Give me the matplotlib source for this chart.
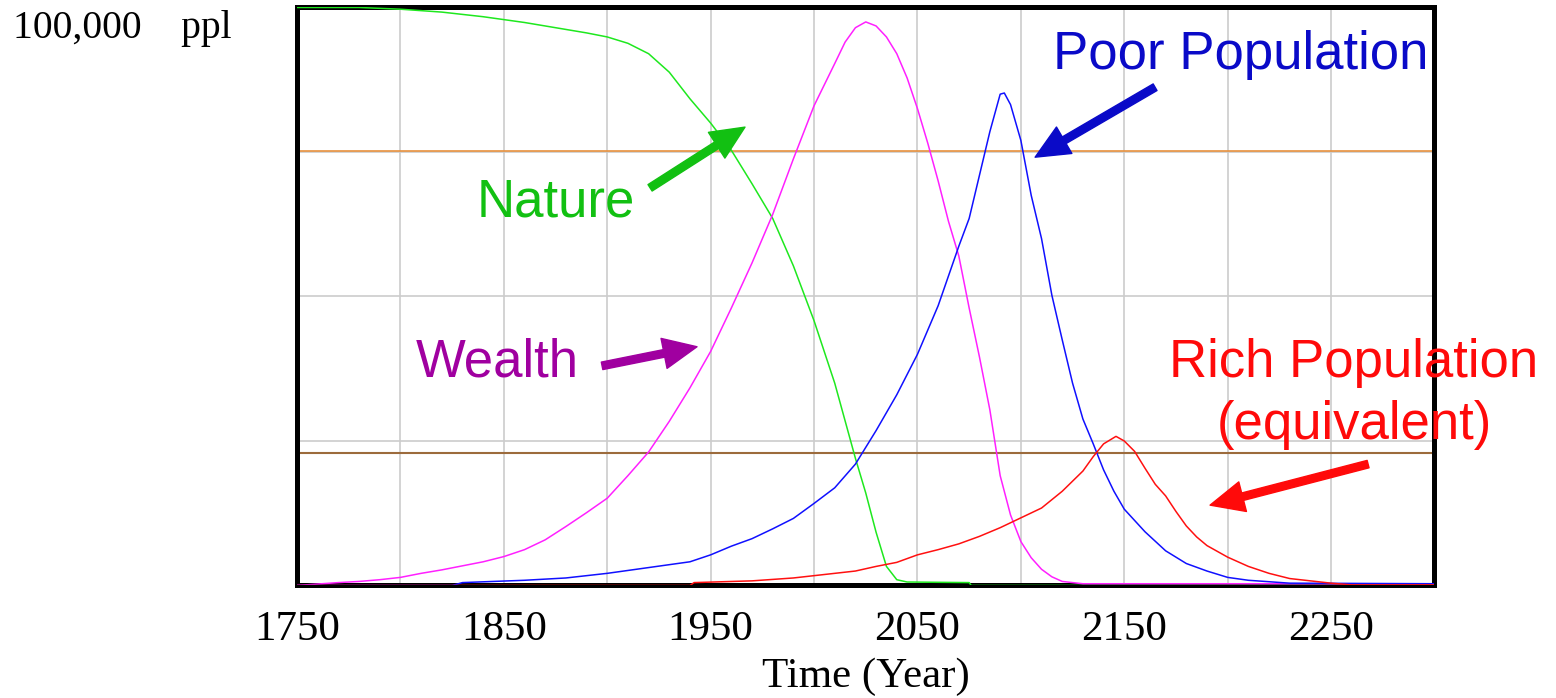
import matplotlib
matplotlib.use("Agg")
import matplotlib.pyplot as plt

# values in thousands of people (axis top = 100,000 ppl)
nature_years = [1750, 1760, 1780, 1800, 1820, 1840, 1860, 1880, 1890, 1900, 1910, 1920,
                1930, 1940, 1950, 1960, 1970, 1980, 1990, 2000, 2010, 2020, 2025, 2030,
                2035, 2040, 2045, 2075, 2076, 2300]
nature = [100, 100, 100, 99.7, 99.2, 98.4, 97.4, 96.2, 95.6, 94.9, 93.8, 92.0,
          88.8, 84.2, 80.0, 75.3, 69.5, 63.5, 55.3, 45.8, 35.0, 22.0, 16.0, 9.2,
          3.3, 1.0, 0.6, 0.5, 0.0, 0.0]

wealth_years = [1750, 1770, 1780, 1790, 1800, 1810, 1820, 1830, 1840, 1850, 1860, 1870,
                1880, 1890, 1900, 1910, 1920, 1930, 1940, 1950, 1960, 1970, 1980, 1990,
                2000, 2010, 2015, 2020, 2025, 2030, 2035, 2040, 2045, 2050, 2055, 2060,
                2065, 2070, 2075, 2080, 2085, 2090, 2095, 2100, 2105, 2110, 2115, 2120,
                2130, 2300]
wealth = [0, 0.5, 0.7, 1.0, 1.4, 2.1, 2.7, 3.4, 4.1, 5.0, 6.2, 7.9,
          10.2, 12.6, 15.1, 19.0, 23.1, 28.4, 34.2, 40.5, 48.0, 55.8, 64.2, 73.8,
          83.0, 90.3, 94.0, 96.5, 97.5, 96.8, 94.9, 92.0, 87.8, 82.5, 76.5, 70.0,
          63.0, 57.0, 48.0, 39.5, 30.4, 19.0, 12.2, 7.6, 4.8, 2.8, 1.5, 0.7,
          0.3, 0.3]

poor_years = [1750, 1825, 1830, 1860, 1880, 1900, 1920, 1940, 1950, 1960, 1970, 1980,
              1990, 2000, 2010, 2020, 2030, 2040, 2050, 2060, 2070, 2075, 2080, 2085,
              2090, 2092, 2095, 2100, 2105, 2110, 2115, 2120, 2125, 2130, 2135, 2140,
              2145, 2150, 2160, 2170, 2180, 2190, 2200, 2210, 2230, 2300]
poor = [0, 0, 0.5, 0.9, 1.3, 2.1, 3.1, 4.1, 5.3, 6.8, 8.1, 9.8,
        11.6, 14.2, 16.9, 21.0, 26.8, 33.0, 40.0, 48.4, 58.7, 63.5, 71.0, 78.5,
        85.0, 85.2, 83.2, 77.0, 67.5, 60.0, 50.2, 42.5, 35.0, 28.8, 24.5, 20.0,
        16.3, 13.2, 9.3, 6.0, 3.8, 2.5, 1.4, 0.9, 0.4, 0.3]

rich_years = [1750, 1940, 1942, 1970, 1990, 2000, 2010, 2020, 2030, 2040, 2050, 2060,
              2070, 2080, 2090, 2100, 2110, 2120, 2130, 2135, 2140, 2146, 2150, 2155,
              2160, 2165, 2170, 2175, 2180, 2185, 2190, 2200, 2210, 2220, 2230, 2240,
              2250, 2260, 2300]
rich = [0, 0, 0.5, 0.8, 1.3, 1.7, 2.1, 2.5, 3.3, 4.0, 5.3, 6.2,
        7.2, 8.5, 10.0, 11.7, 13.4, 16.3, 19.8, 22.3, 24.5, 25.8, 25.0, 23.2,
        20.3, 17.5, 15.5, 12.8, 10.3, 8.4, 6.9, 4.9, 3.3, 2.1, 1.2, 0.8,
        0.4, 0.1, 0.1]

# constant reference lines
upper_line = 75.2
lower_line = 22.9

x_ticks = [1750, 1850, 1950, 2050, 2150, 2250]

plt.rcParams["font.family"] = ["Liberation Serif", "DejaVu Serif"]

fig = plt.figure(figsize=(15.56, 6.98), dpi=100)
ax = fig.add_axes([0.1909, 0.1612, 0.7310, 0.8281])

ax.axhline(upper_line, color="#e8913e", lw=1.2, zorder=2)
ax.axhline(lower_line, color="#9c6b3c", lw=1.5, zorder=2)

ax.plot(nature_years, nature, color="#1ee81e", lw=1.1, zorder=3)
ax.plot(wealth_years, wealth, color="#ff20ff", lw=1.1, zorder=3)
ax.plot(poor_years, poor, color="#1010ff", lw=1.1, zorder=3)
ax.plot(rich_years, rich, color="#ff1010", lw=1.1, zorder=3)

ax.set_xlim(1750, 2300)
ax.set_ylim(0, 100)
ax.set_xticks(x_ticks)
ax.set_xticks([1800, 1900, 2000, 2100, 2200], minor=True)
ax.set_yticks([25, 50, 75])
ax.set_yticklabels([])
ax.tick_params(axis="both", which="both", length=0)
ax.tick_params(axis="x", labelsize=31, pad=18)
ax.grid(True, which="both", color="#cccccc", lw=1.2, zorder=0)
ax.set_axisbelow(True)
for s in ax.spines.values():
    s.set_linewidth(3.6)
    s.set_color("black")
ax.set_xlabel("Time (Year)", fontsize=31, labelpad=6)

fig.text(0.0084, 0.9456, "100,000    ppl", fontsize=28.5, va="baseline")

sans = ["Liberation Sans", "DejaVu Sans"]
arrow = "simple,head_length=1.1,head_width=1.0,tail_width=0.25"

ax.text(1875.2, 63.8, "Nature", color="#12c012", fontsize=38, family=sans,
        ha="center", va="baseline")
ax.annotate("", xy=(1966.6, 79.3), xytext=(1920.7, 68.8),
            arrowprops=dict(arrowstyle=arrow, color="#12c012", mutation_scale=22,
                            shrinkA=0, shrinkB=0))

ax.text(1847, 36.1, "Wealth", color="#a000a0", fontsize=38, family=sans,
        ha="center", va="baseline")
ax.annotate("", xy=(1943.4, 41.3), xytext=(1897.5, 38.0),
            arrowprops=dict(arrowstyle=arrow, color="#a000a0", mutation_scale=22,
                            shrinkA=0, shrinkB=0))

ax.text(2206.5, 89.4, "Poor Population", color="#0a0ac8", fontsize=38, family=sans,
        ha="center", va="baseline")
ax.annotate("", xy=(2106.9, 74.1), xytext=(2164.9, 86.2),
            arrowprops=dict(arrowstyle=arrow, color="#0a0ac8", mutation_scale=22,
                            shrinkA=0, shrinkB=0))

ax.text(2261.1, 36.1, "Rich Population", color="#ff0a0a", fontsize=38, family=sans,
        ha="center", va="baseline")
ax.text(2261.1, 25.3, "(equivalent)", color="#ff0a0a", fontsize=38, family=sans,
        ha="center", va="baseline")
ax.annotate("", xy=(2191.5, 13.9), xytext=(2267.9, 21.0),
            arrowprops=dict(arrowstyle=arrow, color="#ff0a0a", mutation_scale=22,
                            shrinkA=0, shrinkB=0))

fig.savefig("out.png", dpi=100)
